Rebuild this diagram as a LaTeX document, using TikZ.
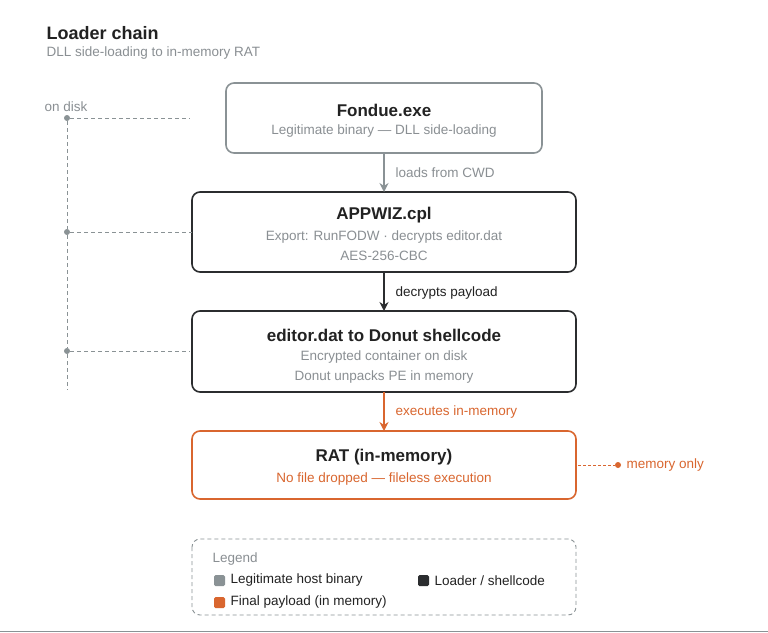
\documentclass[tikz,border=0pt]{standalone}
\usepackage{fontspec}
\setmainfont{Liberation Sans}
\usetikzlibrary{arrows.meta}
\definecolor{gr}{HTML}{8A9295}
\definecolor{dk}{HTML}{2B2D2F}
\definecolor{og}{HTML}{D9662F}
\definecolor{tx}{HTML}{222222}
\definecolor{sub}{HTML}{8A8F93}
\begin{document}
\begin{tikzpicture}[x=1pt,y=-1pt,
 box/.style={draw=#1,rounded corners=8pt,line width=1.6pt,fill=white},
 ttl/.style={font=\fontsize{17}{20}\selectfont\bfseries,text=tx},
 sm/.style={font=\fontsize{13.5}{16}\selectfont},
 arr/.style={-{Stealth[length=9pt,width=9pt]},line width=1.4pt},
 dsh/.style={dashed,gr,line width=0.9pt,dash pattern=on 4pt off 3pt},
 dot/.style={circle,fill=#1,inner sep=0pt,minimum size=6pt}]
\useasboundingbox (0,0) rectangle (768,632);
\fill[white] (0,0) rectangle (768,632);
\node[anchor=west,font=\fontsize{18}{21}\selectfont\bfseries,text=tx] (title) at (43,33) {Loader chain};
\node[anchor=west,sm,text=sub] (subt) at (43,53) {DLL side-loading to in-memory RAT};
% boxes
\draw[box=gr] (226,83) rectangle (542,153);
\node[ttl] (f) at (384,110) {Fondue.exe};
\node[sm,text=sub] (fs) at (384,131) {Legitimate binary — DLL side-loading};
\draw[box=dk] (192,192) rectangle (576,272);
\node[ttl] (a) at (384,215) {APPWIZ.cpl};
\node[sm,text=sub] (as) at (384,237) {Export: RunFODW · decrypts editor.dat};
\node[sm,text=sub] (as2) at (384,256) {AES-256-CBC};
\draw[box=dk] (192,311) rectangle (576,392);
\node[ttl] (e) at (384,335) {editor.dat to Donut shellcode};
\node[sm,text=sub] (es) at (384,357) {Encrypted container on disk};
\node[sm,text=sub] (es2) at (384,377) {Donut unpacks PE in memory};
\draw[box=og] (192,431) rectangle (576,499);
\node[ttl] (r) at (384,457) {RAT (in-memory)};
\node[sm,text=og] (rs) at (384,479) {No file dropped — fileless execution};
% arrows
\coordinate (f1) at (384,153); \coordinate (a0) at (384,192);
\coordinate (a1) at (384,272); \coordinate (e0) at (384,311);
\coordinate (e1) at (384,392); \coordinate (r0) at (384,431);
\draw[arr,gr] (f1) -- (a0);
\node[sm,text=sub,anchor=west] (l1) at (392,173) {loads from CWD};
\draw[arr,dk] (a1) -- (e0);
\node[sm,text=tx,anchor=west] (l2) at (392,293) {decrypts payload};
\draw[arr,og] (e1) -- (r0);
\node[sm,text=og,anchor=west] (l3) at (392,412) {executes in-memory};
% left rail
\node[sm,text=sub,anchor=west] (od) at (41,107) {on disk};
\node[dot=gr] (d1) at (67,118) {};
\node[dot=gr] (d2) at (67,232) {};
\node[dot=gr] (d3) at (67,351) {};
\coordinate (rb) at (67,390);
\coordinate (h1) at (190,118); \coordinate (h2) at (192,232); \coordinate (h3) at (190,351);
\draw[dsh] (d1) -- (h1); \draw[dsh] (d2) -- (h2); \draw[dsh] (d3) -- (h3);
\draw[dsh] (d1) -- (d2) -- (d3) -- (rb);
% memory only
\coordinate (m0) at (578,465);
\node[dot=og] (m1) at (618,465) {};
\draw[dashed,og,line width=0.9pt,dash pattern=on 3pt off 2pt] (m0) -- (m1);
\node[sm,text=og,anchor=west] (mo) at (623,465) {memory only};
% legend
\draw[dashed,gr,rounded corners=8pt,line width=0.9pt,dash pattern=on 4pt off 3pt] (192,539) rectangle (576,615);
\node[sm,text=sub,anchor=west] (lg) at (209,559) {Legend};
\fill[gr,rounded corners=1.5pt] (214,575) rectangle (225,586);
\node[sm,text=tx,anchor=west] (lg1) at (227,580.5) {Legitimate host binary};
\fill[dk,rounded corners=1.5pt] (418,575) rectangle (429,586);
\node[sm,text=tx,anchor=west] (lg2) at (431,580.5) {Loader / shellcode};
\fill[og,rounded corners=1.5pt] (214,597) rectangle (225,608);
\node[sm,text=tx,anchor=west] (lg3) at (227,602.5) {Final payload (in memory)};
\draw[gr,line width=1pt] (0,631.5) -- (768,631.5);
\end{tikzpicture}
\end{document}
